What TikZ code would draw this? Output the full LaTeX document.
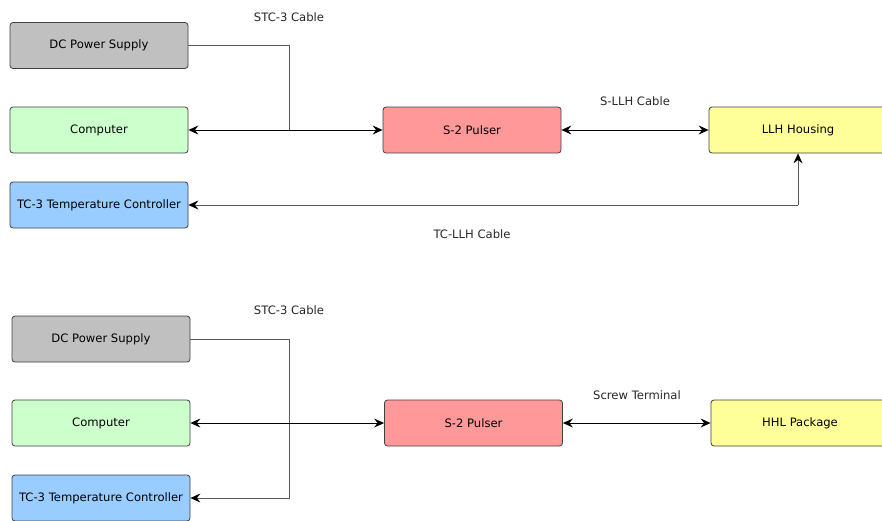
\documentclass[tikz,border=0pt]{standalone}
\usepackage{fontspec}
\setmainfont{DejaVu Sans}
\usetikzlibrary{positioning,arrows.meta}

\begin{document}
\begin{tikzpicture}[
            x=1pt,y=-1pt,
            >={Stealth[length=10pt,width=9pt,inset=3.5pt,color=black]},
            font=\fontsize{11.6}{13}\selectfont,
            box/.style={draw=black!75,line width=0.8pt,rounded corners=3pt,minimum width=178pt,minimum height=46pt,inner sep=0pt},
            cable/.style={draw=black!65,line width=1pt},
            lbl/.style={text=black!85}
        ]
            \definecolor{grx}{HTML}{C0C0C0}
            \definecolor{cmx}{HTML}{CCFFCC}
            \definecolor{tcx}{HTML}{99CCFF}
            \definecolor{spx}{HTML}{FF9999}
            \definecolor{llx}{HTML}{FFFF99}
            \useasboundingbox (0,0) rectangle (882,520);

            % first setup: LLH housing
            \begin{scope}[every node/.style={box}]
                \node (dc1) [fill=grx] at (99,45.5)  {DC Power Supply};
                \node (cp1) [fill=cmx] at (99,130)   {Computer};
                \node (tc1) [fill=tcx] at (99,205)   {TC-3 Temperature Controller};
                \node (sp1) [fill=spx] at (472,130)  {S-2 Pulser};
                \node (lh1) [fill=llx] at (798,130)  {LLH Housing};
            \end{scope}
            \coordinate (j1) at (289,130);
            \node (stc1) [lbl] at (289,17)  {STC-3 Cable};
            \node (sll)  [lbl] at (635,101) {S-LLH Cable};
            \node (tcl)  [lbl] at (472,234) {TC-LLH Cable};
            \draw [cable] (dc1.east) -| (j1);
            \draw [cable,<->,black] (cp1) -- (sp1);
            \draw [cable,<->,black] (sp1) -- (lh1);
            \draw [cable,->] (lh1.south |- tc1.east) -- (lh1.south);
            \draw [cable,->] (lh1.south |- tc1.east) -- (tc1.east);

            % second setup: HHL package
            \begin{scope}[every node/.style={box}]
                \node (dc2) [fill=grx] at (101,339)  {DC Power Supply};
                \node (cp2) [fill=cmx] at (101,423)  {Computer};
                \node (tc2) [fill=tcx] at (101,498)  {TC-3 Temperature Controller};
                \node (sp2) [fill=spx] at (473.5,423) {S-2 Pulser};
                \node (hh2) [fill=llx] at (800,423)  {HHL Package};
            \end{scope}
            \coordinate (j2) at (289,498);
            \node (stc2) [lbl] at (289,310) {STC-3 Cable};
            \node (scr)  [lbl] at (637,395) {Screw Terminal};
            \draw [cable,->] (dc2.east) -| (j2) -- (tc2.east);
            \draw [cable,<->,black] (cp2) -- (sp2);
            \draw [cable,<->,black] (sp2) -- (hh2);
        \end{tikzpicture}
\end{document}
